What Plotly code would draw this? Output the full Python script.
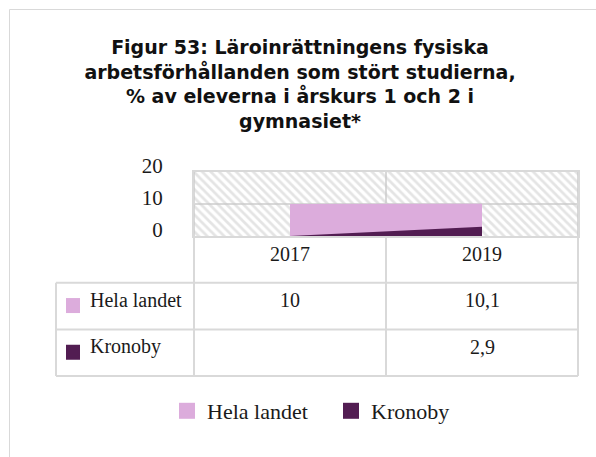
import plotly.graph_objects as go

# --- data -------------------------------------------------------------
years = ["2017", "2019"]
series_names = ["Hela landet", "Kronoby"]
hela_landet = [10.0, 10.1]
kronoby = [None, 2.9]          # no value reported for 2017
series_colors = ["#dcacdc", "#521d52"]
y_ticks = [0, 10, 20]

title_lines = [
    "Figur 53: Läroinrättningens fysiska",
    "arbetsförhållanden som stört studierna,",
    "% av eleverna i årskurs 1 och 2 i",
    "gymnasiet*",
]

# --- layout geometry (pixels) ------------------------------------------
W, H = 596, 457
L, R, T, B = 194, 18, 172, 221
PW, PH = W - L - R, H - T - B
X_MIN, X_MAX = -0.5, len(years) - 0.5
Y_MIN, Y_MAX = y_ticks[0], y_ticks[-1]

GRID = "#d9d9d9"
SERIF = "Liberation Serif"
TXT = "#1a1a1a"


def fx(px):
    """pixel column -> paper x"""
    return (px - L) / PW


def fy(py):
    """pixel row -> paper y"""
    return (T + PH - py) / PH


def data_x_to_paper(x):
    return (x - X_MIN) / (X_MAX - X_MIN)


x_idx = list(range(len(years)))

fig = go.Figure()

# hatched plot-area background
fig.add_trace(go.Scatter(
    x=[X_MIN, X_MAX, X_MAX, X_MIN], y=[Y_MIN, Y_MIN, Y_MAX, Y_MAX],
    fill="toself", mode="none", fillcolor="rgba(0,0,0,0)",
    fillpattern=dict(shape="\\", fgcolor="#c9c9c9", bgcolor="rgba(0,0,0,0)",
                     size=6, solidity=0.45),
    hoverinfo="skip", showlegend=False,
))

# areas (blank values are drawn as zero)
for name, vals, col in zip(series_names, [hela_landet, kronoby], series_colors):
    fig.add_trace(go.Scatter(
        x=x_idx, y=[v if v is not None else 0 for v in vals],
        fill="tozeroy", mode="none", fillcolor=col, name=name,
        showlegend=False,
    ))

# legend keys
for name, col in zip(series_names, series_colors):
    fig.add_trace(go.Scatter(
        x=[None], y=[None], mode="markers", name=name,
        marker=dict(symbol="square", size=18, color=col),
    ))

shapes = []
line = dict(color=GRID, width=2)
# outer frame
shapes.append(dict(type="rect", xref="paper", yref="paper",
                   x0=fx(9.5), x1=fx(640), y0=fy(9.5), y1=fy(500),
                   line=dict(color=GRID, width=1), layer="below"))

# data table grid
row_h = 46.7
tbl_top = T + PH
row_edges = [tbl_top + i * row_h for i in range(len(series_names) + 2)]
tbl_left = 56
col_edges = [data_x_to_paper(X_MIN + i) for i in range(len(years) + 1)]
for i, xe in enumerate(col_edges):
    shapes.append(dict(type="line", xref="paper", yref="paper",
                       x0=xe, x1=xe, y0=fy(T), y1=fy(row_edges[-1]),
                       line=line, layer="below"))
shapes.append(dict(type="line", xref="paper", yref="paper",
                   x0=fx(tbl_left), x1=fx(tbl_left),
                   y0=fy(row_edges[1]), y1=fy(row_edges[-1]), line=line))
for ye in row_edges[1:]:
    shapes.append(dict(type="line", xref="paper", yref="paper",
                       x0=fx(tbl_left), x1=1, y0=fy(ye), y1=fy(ye), line=line))

annotations = []
cell_font = dict(family=SERIF, size=20, color=TXT)

# header row: years
yh = (row_edges[0] + row_edges[1]) / 2
for i, yr in enumerate(years):
    annotations.append(dict(xref="x", yref="paper", x=x_idx[i], y=fy(yh - 5),
                            text=yr, showarrow=False, xanchor="center",
                            yanchor="middle", font=cell_font))

for r, (name, vals, col) in enumerate(zip(series_names, [hela_landet, kronoby],
                                           series_colors)):
    yc = (row_edges[r + 1] + row_edges[r + 2]) / 2
    shapes.append(dict(type="rect", xref="paper", yref="paper",
                       x0=fx(66), x1=fx(80), y0=fy(yc - 8), y1=fy(yc + 7),
                       fillcolor=col, line=dict(width=0)))
    annotations.append(dict(xref="paper", yref="paper", x=fx(88), y=fy(yc - 6),
                            text=name, showarrow=False, xanchor="left",
                            yanchor="middle", font=cell_font))
    for i, v in enumerate(vals):
        if v is None:
            continue
        txt = (f"{v:g}").replace(".", ",")
        annotations.append(dict(xref="x", yref="paper", x=x_idx[i], y=fy(yc - 6),
                                text=txt, showarrow=False, xanchor="center",
                                yanchor="middle", font=cell_font))

fig.update_layout(
    width=W, height=H,
    margin=dict(l=L, r=R, t=T, b=B, autoexpand=False),
    paper_bgcolor="white", plot_bgcolor="rgba(0,0,0,0)",
    title=dict(
        text="<b>" + "<br>".join(title_lines) + "</b>",
        xref="container", yref="container", x=300 / W, xanchor="center",
        y=1 - 54 / H, yanchor="top",
        font=dict(family="DejaVu Sans", size=19, color="#111111"),
    ),
    xaxis=dict(range=[X_MIN, X_MAX], tickvals=x_idx, showticklabels=False,
               showgrid=False, zeroline=False, showline=True, mirror=True,
               linecolor=GRID, linewidth=2, ticks="", fixedrange=True),
    yaxis=dict(range=[Y_MIN, Y_MAX], tickvals=y_ticks, showgrid=True,
               gridcolor=GRID, gridwidth=2, zeroline=False, showline=True,
               mirror=True, linecolor=GRID, linewidth=2, ticks="",
               ticklabelstandoff=25, ticklabelshift=-6,
               tickfont=dict(family=SERIF, size=21, color=TXT), fixedrange=True),
    legend=dict(orientation="h", xref="container", yref="container",
                x=167 / W, xanchor="left", y=1 - 411 / H,
                yanchor="middle", font=dict(family=SERIF, size=22, color=TXT),
                entrywidth=119, entrywidthmode="pixels",
                itemclick=False, itemdoubleclick=False),
    shapes=shapes, annotations=annotations, showlegend=True,
)

fig.write_html("out.html")
